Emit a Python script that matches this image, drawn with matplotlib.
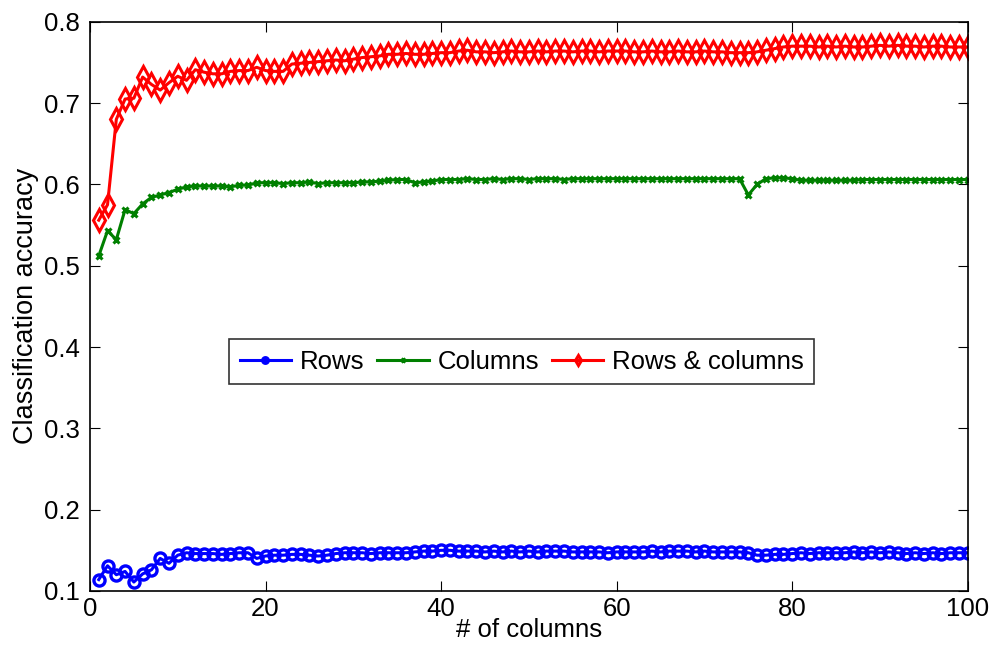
import numpy as np
import matplotlib
matplotlib.use('Agg')
import matplotlib.pyplot as plt

plt.rcParams['font.family'] = ['Liberation Sans', 'DejaVu Sans']

# number of columns used
n_cols = list(range(1, 101))

# classification accuracy
rows_acc = [0.114, 0.131, 0.120, 0.124, 0.111, 0.121, 0.126, 0.140, 0.134, 0.144,
            0.147, 0.146, 0.146, 0.146, 0.145, 0.146, 0.147, 0.147, 0.140, 0.143,
            0.144, 0.144, 0.145, 0.145, 0.144, 0.143, 0.144, 0.146, 0.147, 0.147,
            0.147, 0.146, 0.147, 0.147, 0.147, 0.147, 0.148, 0.149, 0.149, 0.150,
            0.150, 0.149, 0.149, 0.149, 0.148, 0.149, 0.148, 0.149, 0.148, 0.149,
            0.148, 0.149, 0.149, 0.149, 0.148, 0.148, 0.148, 0.148, 0.147, 0.148,
            0.148, 0.148, 0.148, 0.149, 0.148, 0.149, 0.149, 0.149, 0.148, 0.149,
            0.148, 0.148, 0.148, 0.148, 0.147, 0.144, 0.144, 0.145, 0.145, 0.146,
            0.147, 0.146, 0.147, 0.147, 0.147, 0.147, 0.148, 0.147, 0.148, 0.147,
            0.148, 0.147, 0.146, 0.147, 0.146, 0.147, 0.146, 0.147, 0.147, 0.147]

cols_acc = [0.512, 0.543, 0.532, 0.569, 0.564, 0.576, 0.584, 0.587, 0.590, 0.594,
            0.597, 0.598, 0.598, 0.598, 0.598, 0.597, 0.599, 0.599, 0.602, 0.602,
            0.602, 0.601, 0.602, 0.602, 0.603, 0.601, 0.602, 0.602, 0.602, 0.602,
            0.603, 0.603, 0.604, 0.605, 0.606, 0.606, 0.602, 0.603, 0.604, 0.606,
            0.606, 0.606, 0.607, 0.606, 0.606, 0.607, 0.606, 0.607, 0.607, 0.606,
            0.607, 0.607, 0.607, 0.606, 0.607, 0.607, 0.607, 0.607, 0.607, 0.607,
            0.607, 0.607, 0.607, 0.607, 0.607, 0.607, 0.607, 0.607, 0.607, 0.607,
            0.607, 0.607, 0.607, 0.607, 0.587, 0.600, 0.607, 0.608, 0.608, 0.607,
            0.605, 0.605, 0.605, 0.605, 0.605, 0.605, 0.605, 0.606, 0.606, 0.606,
            0.606, 0.606, 0.606, 0.606, 0.606, 0.606, 0.606, 0.606, 0.606, 0.606]

both_acc = [0.556, 0.575, 0.680, 0.705, 0.706, 0.732, 0.723, 0.716, 0.725, 0.733,
            0.728, 0.741, 0.738, 0.736, 0.736, 0.739, 0.740, 0.740, 0.744, 0.740,
            0.739, 0.739, 0.748, 0.749, 0.750, 0.751, 0.752, 0.753, 0.752, 0.754,
            0.756, 0.757, 0.758, 0.760, 0.760, 0.761, 0.760, 0.760, 0.761, 0.762,
            0.762, 0.764, 0.765, 0.763, 0.763, 0.762, 0.763, 0.764, 0.763, 0.763,
            0.764, 0.763, 0.764, 0.764, 0.763, 0.764, 0.764, 0.763, 0.764, 0.764,
            0.764, 0.763, 0.763, 0.764, 0.763, 0.763, 0.764, 0.763, 0.763, 0.764,
            0.763, 0.763, 0.762, 0.762, 0.762, 0.763, 0.765, 0.767, 0.769, 0.770,
            0.770, 0.770, 0.769, 0.770, 0.769, 0.770, 0.769, 0.769, 0.770, 0.771,
            0.770, 0.771, 0.770, 0.770, 0.769, 0.770, 0.770, 0.769, 0.769, 0.769]

fig = plt.figure(figsize=(9.93, 6.52), dpi=100)
ax = fig.add_axes([0.0906, 0.0936, 0.884, 0.873])

ax.plot(n_cols, rows_acc, color=(0, 0, 1), lw=2.2, marker='o', ms=8,
        mfc='none', mew=2.4, label='Rows')
ax.plot(n_cols, cols_acc, color=(0, 0.5, 0), lw=2.2, marker='x', ms=5,
        mew=2.2, label='Columns')
ax.plot(n_cols, both_acc, color=(1, 0, 0), lw=2.2, marker='d', ms=11,
        mfc='none', mew=2.2, label='Rows & columns')

ax.set_xlim(0, 100)
ax.set_ylim(0.1, 0.8)
ax.set_xticks([0, 20, 40, 60, 80, 100])
ax.set_yticks(np.arange(0.1, 0.81, 0.1))
ax.set_yticklabels(['0.1', '0.2', '0.3', '0.4', '0.5', '0.6', '0.7', '0.8'])
ax.tick_params(direction='in', top=True, right=True, labelsize=18.5, length=7, pad=7)
ax.tick_params(axis='x', pad=4)
for s in ax.spines.values():
    s.set_linewidth(1.2)

ax.set_xlabel('# of columns', fontsize=18.5, labelpad=-2)
ax.set_ylabel('Classification accuracy', fontsize=19.5, labelpad=4)

leg = ax.legend(loc='center', bbox_to_anchor=(0.492, 0.403), ncol=3,
                fontsize=18.5, frameon=True, fancybox=False, borderpad=0.4,
                handlelength=2.0, handletextpad=0.35, columnspacing=0.5,
                markerscale=0.5, borderaxespad=0)
leg.get_frame().set_edgecolor('black')
leg.get_frame().set_linewidth(1.2)

fig.savefig('out.png', dpi=100)
